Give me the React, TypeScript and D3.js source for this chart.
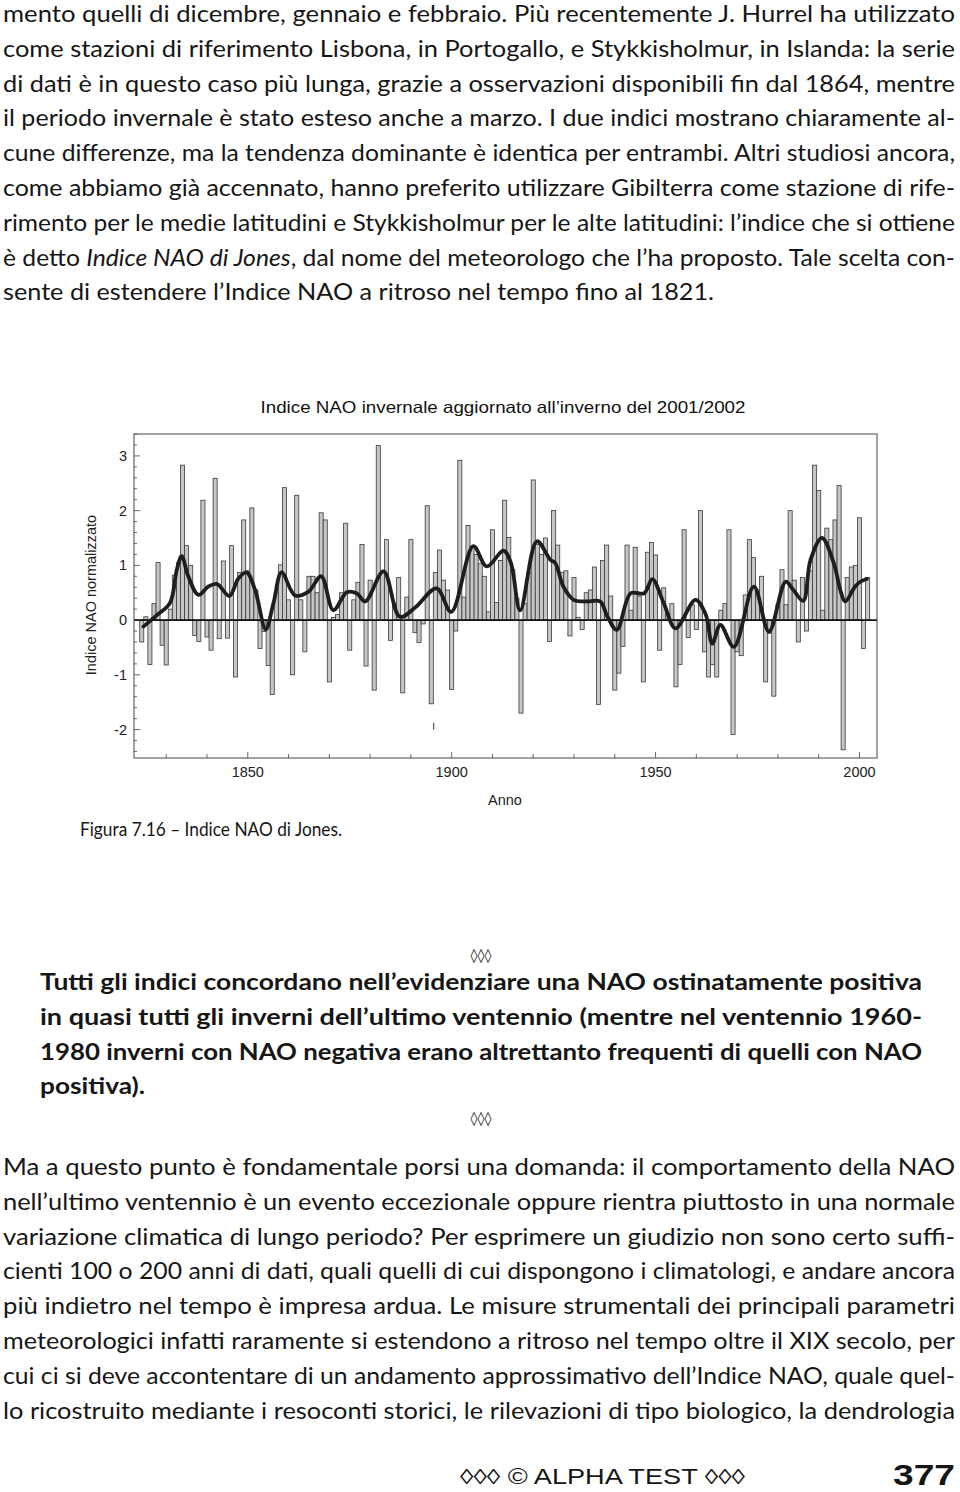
import React from "react";
import * as d3 from "d3";

// ---------- DATA ----------
const firstYear = 1824;
// Jones winter NAO index (normalised), one value per winter, 1824 .. 2002
const nao1824_1849 = [-0.40, 0.06, -0.81, 0.30, 1.05, -0.46,
  -0.82, 0.20, 0.82, 1.05, 2.83, 1.36, 1.00, -0.28, -0.39, 2.19,
  -0.31, -0.55, 2.59, -0.34, 1.08, -0.33, 1.36, -1.04, 0.87, 1.83];
const nao1850_1899 = [0.90, 2.05, 0.55, -0.52, -0.21, -0.83, -1.36, 0.51, 1.01, 2.42,
  0.37, -1.00, 2.28, 0.37, -0.58, 0.80, 0.80, 0.50, 1.96, 1.83,
  -1.13, 0.05, 0.10, 0.50, 1.77, -0.55, 0.37, 0.69, 1.38, -0.84,
  0.73, -1.28, 3.19, 0.90, 1.47, -0.37, 0.30, 0.78, -1.33, 0.42,
  1.47, -0.23, -0.41, -0.07, 2.09, -1.53, 0.87, 1.28, 0.73, 0.55];
const nao1900_1949 = [-1.27, -0.20, 2.92, 0.42, 1.73, 1.35, 1.20, 1.03, 0.80, 0.15,
  1.65, 0.32, 1.09, 2.19, 1.51, 0.92, 0.40, -1.70, 0.30, 0.87,
  2.56, 1.38, 1.20, 1.50, -0.39, 2.00, 1.37, 0.87, 0.90, -0.29,
  0.78, 0.05, -0.17, 0.50, 0.55, 0.97, -1.54, 1.09, 1.37, 0.44,
  -1.28, -0.97, -0.48, 1.37, 0.18, 1.33, 0.44, -1.13, 1.24, 1.42];
const nao1950_2002 = [1.19, -0.55, 0.59, 0.12, 0.30, -1.22, -0.81, 1.65, -0.32, 0.28,
  -0.17, 2.00, -0.58, -1.04, -0.81, -1.04, 0.18, 0.30, 1.65, -2.09,
  -0.58, -0.65, 0.46, 1.47, 1.14, 0.55, 0.80, -1.13, -0.24, -1.39,
  0.28, 0.92, 0.28, 2.00, 0.73, -0.40, 0.78, -0.20, 0.90, 2.83,
  2.37, 0.18, 1.68, 1.47, 1.83, 2.46, -2.37, 0.78, 0.97, 1.00,
  1.87, -0.52, 0.78];
const naoIndex = [...nao1824_1849, ...nao1850_1899, ...nao1900_1949, ...nao1950_2002];

// smoothed (low-pass) curve: year and value
const smoothYears = [1824.4, 1827.7, 1830.9, 1832.6, 1833.8, 1835.4, 1837.9, 1840.3, 1842.4, 1845.5,
  1847.7, 1849.7, 1851.8, 1854.4, 1856.3, 1858.3, 1861.6, 1864.9, 1868.0, 1871.0,
  1874.3, 1876.7, 1878.8, 1883.3, 1887.3, 1891.2, 1896.3, 1899.9, 1905.3, 1908.6,
  1912.7, 1914.5, 1916.8, 1920.9, 1924.2, 1925.4, 1927.4, 1929.9, 1933.0, 1936.4,
  1938.2, 1940.5, 1943.9, 1947.2, 1949.2, 1952.0, 1954.9, 1959.8, 1962.3, 1963.9,
  1965.9, 1969.2, 1974.1, 1977.8, 1981.9, 1983.8, 1986.2, 1988.0, 1990.8, 1993.7,
  1995.3, 1996.5, 1998.9, 2000.2, 2001.8];
const smoothValues = [-0.12, 0.09, 0.31, 0.92, 1.17, 0.80, 0.46, 0.61, 0.66, 0.44,
  0.76, 0.87, 0.55, -0.17, 0.31, 0.87, 0.45, 0.52, 0.80, 0.18,
  0.51, 0.49, 0.34, 0.89, 0.06, 0.24, 0.58, 0.15, 1.35, 0.98,
  1.27, 1.05, 0.18, 1.44, 1.10, 1.04, 0.61, 0.37, 0.34, 0.34,
  0.06, -0.18, 0.49, 0.49, 0.75, 0.31, -0.15, 0.37, 0.10, -0.43,
  -0.09, -0.49, 0.61, -0.21, 0.70, 0.55, 0.35, 1.10, 1.50, 1.04,
  0.55, 0.34, 0.61, 0.70, 0.75];

// small stray mark printed below the bars near 1896
const strayMarkYear = 1895.6;
const strayMarkRange = [-1.88, -2.0];

const yTickValues = [-2, -1, 0, 1, 2, 3];
const yTickLabels = ["-2", "-1", "0", "1", "2", "3"];
const xTickValues = [1850, 1900, 1950, 2000];
const xTickLabels = ["1850", "1900", "1950", "2000"];

const chartTitle = "Indice NAO invernale aggiornato all\u2019inverno del 2001/2002";
const yAxisTitle = "Indice NAO normalizzato";
const xAxisTitle = "Anno";
const caption = "Figura 7.16 \u2013 Indice NAO di Jones.";

const para1 = [
  "mento quelli di dicembre, gennaio e febbraio. Più recentemente J. Hurrel ha utilizzato",
  "come stazioni di riferimento Lisbona, in Portogallo, e Stykkisholmur, in Islanda: la serie",
  "di dati è in questo caso più lunga, grazie a osservazioni disponibili fin dal 1864, mentre",
  "il periodo invernale è stato esteso anche a marzo. I due indici mostrano chiaramente al-",
  "cune differenze, ma la tendenza dominante è identica per entrambi. Altri studiosi ancora,",
  "come abbiamo già accennato, hanno preferito utilizzare Gibilterra come stazione di rife-",
  "rimento per le medie latitudini e Stykkisholmur per le alte latitudini: l\u2019indice che si ottiene",
  "ITALIC",
  "sente di estendere l\u2019Indice NAO a ritroso nel tempo fino al 1821.",
];
const para2 = [
  "Tutti gli indici concordano nell\u2019evidenziare una NAO ostinatamente positiva",
  "in quasi tutti gli inverni dell\u2019ultimo ventennio (mentre nel ventennio 1960-",
  "1980 inverni con NAO negativa erano altrettanto frequenti di quelli con NAO",
  "positiva).",
];
const para3 = [
  "Ma a questo punto è fondamentale porsi una domanda: il comportamento della NAO",
  "nell\u2019ultimo ventennio è un evento eccezionale oppure rientra piuttosto in una normale",
  "variazione climatica di lungo periodo? Per esprimere un giudizio non sono certo suffi-",
  "cienti 100 o 200 anni di dati, quali quelli di cui dispongono i climatologi, e andare ancora",
  "più indietro nel tempo è impresa ardua. Le misure strumentali dei principali parametri",
  "meteorologici infatti raramente si estendono a ritroso nel tempo oltre il XIX secolo, per",
  "cui ci si deve accontentare di un andamento approssimativo dell\u2019Indice NAO, quale quel-",
  "lo ricostruito mediante i resoconti storici, le rilevazioni di tipo biologico, la dendrologia",
];

// ---------- LAYOUT ----------
const W = 960;
const H = 1492;
const plot = { left: 134, right: 877, top: 434, bottom: 758 };
const bodyFont = "Lato, 'Noto Sans', 'Open Sans', sans-serif";
const chartFont = "'Liberation Sans', Arial, Helvetica, sans-serif";
const narrowFont = "'Liberation Sans Narrow', 'Liberation Sans', Arial, sans-serif";
const ink = "#161616";

export default function App() {
  const years = naoIndex.map((_, i) => firstYear + i);

  const x = d3.scaleLinear().domain([1822.1, 2004.3]).range([plot.left, plot.right]);
  const y = d3.scaleLinear().domain([-2.52, 3.4]).range([plot.bottom, plot.top]);

  const line = d3
    .line<number>()
    .x((_, i) => x(smoothYears[i]))
    .y((d) => y(d))
    .curve(d3.curveCatmullRom.alpha(0.5));

  const minorY = d3.range(-24, 35, 2).map((v) => v / 10);
  const decades = d3.range(1830, 2001, 10);
  const lineGap = 34.8;

  const justified = (lines: string[], x0: number, x1: number, y0: number, lastWidth: number | null,
    weight = 400, size = 23.5, adjust = "spacingAndGlyphs") =>
    lines.map((t, i) => {
      const isLast = i === lines.length - 1 && lastWidth !== null;
      const len = isLast ? (lastWidth as number) : x1 - x0;
      if (t === "ITALIC") {
        return (
          <text key={i} x={x0} y={y0 + i * lineGap} textLength={len} lengthAdjust={adjust}
            fontFamily={bodyFont} fontSize={size} fontWeight={weight} fill={ink}>
            è detto <tspan fontStyle="italic">Indice NAO di Jones</tspan>, dal nome del meteorologo che l’ha proposto. Tale scelta con-
          </text>
        );
      }
      return (
        <text key={i} x={x0} y={y0 + i * lineGap} textLength={len} lengthAdjust={adjust}
          fontFamily={bodyFont} fontSize={size} fontWeight={weight} fill={ink}>
          {t}
        </text>
      );
    });

  return (
    <svg width={W} height={H} viewBox={`0 0 ${W} ${H}`}
      style={{ position: "absolute", left: 0, top: 0, background: "#fff" }}>
      <rect x={0} y={0} width={W} height={H} fill="#fff" />

      {/* paragraph 1 */}
      {justified(para1, 3, 955, 22, 711)}

      {/* chart title */}
      <text x={503} y={413} textAnchor="middle" fontFamily={chartFont} fontSize={16.5}
        fill="#111" textLength={485} lengthAdjust="spacingAndGlyphs">{chartTitle}</text>

      {/* bars */}
      <g>
        {naoIndex.map((v, i) => {
          const x0 = x(years[i] - 0.5);
          const x1 = x(years[i] + 0.5);
          const yTop = y(Math.max(0, v));
          const yBot = y(Math.min(0, v));
          return (
            <rect key={i} x={x0} y={yTop} width={x1 - x0} height={Math.max(0.5, yBot - yTop)}
              fill="#c6c6c6" stroke="#3a3a3a" strokeWidth={0.8} />
          );
        })}
      </g>

      {/* zero line */}
      <line x1={plot.left} x2={plot.right} y1={y(0)} y2={y(0)} stroke="#111" strokeWidth={1.8} />

      {/* smoothed curve */}
      <path d={line(smoothValues) || ""} fill="none" stroke="#1e1e1e" strokeWidth={3.8}
        strokeLinejoin="round" strokeLinecap="round" />

      {/* stray mark */}
      <line x1={x(strayMarkYear)} x2={x(strayMarkYear)} y1={y(strayMarkRange[0])} y2={y(strayMarkRange[1])}
        stroke="#333" strokeWidth={1} />

      {/* frame */}
      <rect x={plot.left} y={plot.top} width={plot.right - plot.left} height={plot.bottom - plot.top}
        fill="none" stroke="#444" strokeWidth={1} />

      {/* y ticks */}
      {minorY.map((v, i) => {
        const major = Math.abs(v - Math.round(v)) < 1e-6;
        return (
          <line key={i} x1={plot.left} x2={plot.left + (major ? 6 : 3)} y1={y(v)} y2={y(v)}
            stroke="#444" strokeWidth={0.8} />
        );
      })}
      {yTickValues.map((v, i) => (
        <text key={i} x={plot.left - 7} y={y(v) + 5} textAnchor="end" fontFamily={chartFont}
          fontSize={14.5} fill="#222">{yTickLabels[i]}</text>
      ))}
      <text transform={`translate(96, ${595}) rotate(-90)`} textAnchor="middle" fontFamily={chartFont}
        fontSize={14.5} fill="#222">{yAxisTitle}</text>

      {/* x ticks */}
      {decades.map((d) => (
        <line key={d} x1={x(d)} x2={x(d)} y1={plot.bottom} y2={plot.bottom - (d % 50 === 0 ? 6 : 4)}
          stroke="#444" strokeWidth={0.8} />
      ))}
      {xTickValues.map((v, i) => (
        <text key={v} x={x(v)} y={777} textAnchor="middle" fontFamily={chartFont} fontSize={14.5}
          fill="#222">{xTickLabels[i]}</text>
      ))}
      <text x={505} y={805} textAnchor="middle" fontFamily={chartFont} fontSize={14.5} fill="#222">{xAxisTitle}</text>

      {/* caption */}
      <text x={80} y={836} fontFamily={bodyFont} fontSize={18.5} fill={ink} textLength={262}
        lengthAdjust="spacingAndGlyphs">{caption}</text>

      {/* separator */}
      <text x={481} y={960} textAnchor="middle" fontFamily="'DejaVu Sans', sans-serif" fontSize={14} fill={ink}>◊◊◊</text>

      {/* bold paragraph */}
      {justified(para2, 40, 922, 990, 105, 700, 23.5)}

      <text x={481} y={1123} textAnchor="middle" fontFamily="'DejaVu Sans', sans-serif" fontSize={14} fill={ink}>◊◊◊</text>

      {/* paragraph 3 */}
      {justified(para3, 3, 955, 1175, null)}

      {/* footer */}
      <g transform="translate(460, 1484) scale(1, 1.18)">
        <text x={0} y={0} fontFamily={narrowFont} fontSize={18} fill={ink} textLength={285}
          lengthAdjust="spacingAndGlyphs">◊◊◊ © ALPHA TEST ◊◊◊</text>
      </g>
      <g transform="translate(893, 1485) scale(1, 1.15)">
        <text x={0} y={0} fontFamily={narrowFont} fontSize={25} fontWeight={700} fill={ink}
          textLength={62} lengthAdjust="spacingAndGlyphs">377</text>
      </g>
    </svg>
  );
}
